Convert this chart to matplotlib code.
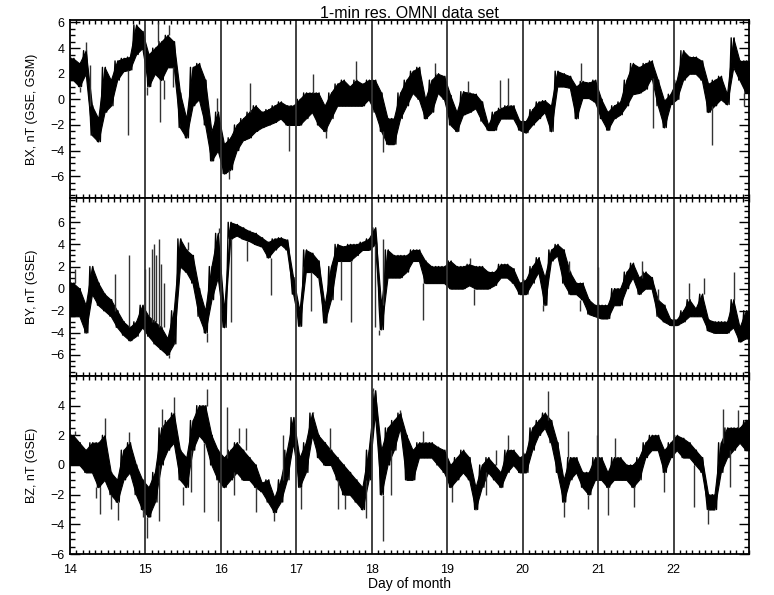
import matplotlib
matplotlib.use("Agg")
import matplotlib.pyplot as plt
import numpy as np
from matplotlib.ticker import MultipleLocator

plt.rcParams['font.family'] = ['Liberation Sans', 'DejaVu Sans']

# 2-hour bins from day 14.0 to 23.0 (12 bins per day):
# lo/hi = extent of the dense part of the 1-min trace in each bin, spikes = isolated excursions
day_first = 14
day_last = 23
bins_per_day = 12
day_ticks = [14, 15, 16, 17, 18, 19, 20, 21, 22]

bx_lo = [1.5, 1.0, 2.0, -2.8, -3.3, -1.0, -0.5, 1.5, 2.2, 2.3, 3.5, 4.0,
         1.0, 2.0, 1.5, 2.5, 2.5, -2.2, -3.0, -0.5, 0.0, -2.0, -4.8, -4.0,
         -5.8, -5.5, -4.0, -3.2, -3.0, -2.5, -2.2, -2.0, -1.8, -1.5, -2.0, -2.0,
         -2.0, -1.5, -1.0, -2.0, -2.5, -1.5, -0.5, -0.5, -0.5, -0.5, -0.5, 0.0,
         -1.0, -2.5, -3.5, -3.5, -1.5, -0.5, 0.5, 0.0, -1.5, -1.0, 0.5, 0.0,
         -2.0, -2.5, -1.2, -1.0, -0.7, -1.7, -2.4, -2.4, -1.5, -1.5, -1.5, -2.4,
         -2.6, -2.0, -1.5, -1.0, -2.5, 1.0, 1.0, 0.9, -1.5, 0.1, 0.1, -0.2,
         -1.5, -2.4, -1.5, -1.2, -0.5, 0.4, 0.5, 0.8, 1.7, -0.5, -2.2, -0.4,
         0.0, 1.5, 2.0, 2.0, 1.5, -1.0, -0.5, 0.0, -0.4, 2.5, 1.5, 0.5]
bx_hi = [3.2, 2.8, 3.8, -0.5, -1.5, 2.5, 1.5, 3.0, 3.2, 3.3, 5.8, 5.3,
         3.5, 4.0, 4.5, 5.0, 4.5, 0.5, -1.5, 2.5, 2.8, 1.5, -2.5, -1.0,
         -3.5, -3.0, -2.0, -1.5, -1.0, -0.5, -1.0, -0.8, -0.5, -0.2, -0.5, -0.5,
         0.0, 0.5, 0.5, 0.5, -0.5, 0.5, 1.2, 1.5, 1.0, 1.5, 1.2, 1.5,
         1.5, 0.5, -1.5, -1.5, 0.5, 1.5, 2.2, 2.5, 0.0, 1.5, 2.0, 1.8,
         0.3, -1.0, 0.6, 0.5, 0.4, -0.2, -2.0, -1.0, -0.7, -0.5, -0.5, -1.7,
         -1.7, -0.8, -0.2, -0.1, -0.5, 2.2, 2.0, 1.8, 1.0, 1.4, 1.3, 1.5,
         0.0, -1.0, -0.5, -0.2, 1.5, 2.8, 2.5, 2.8, 3.0, 1.5, -0.1, 0.4,
         1.5, 3.8, 3.3, 3.3, 3.0, 1.2, 1.5, 1.8, 0.4, 4.8, 3.0, 3.0]
bx_spike_t = [14.13, 14.21, 14.27, 14.77, 15.02, 15.17, 15.19, 15.24, 15.31, 15.36,
              15.95, 16.11, 16.39, 16.90, 17.22, 17.40, 17.79, 18.15, 18.84, 19.28,
              19.70, 19.80, 20.77, 21.73, 22.51, 22.93]
bx_spike_v = [0.6, 4.5, 2.7, -2.8, 0.3, 6.0, -1.8, 0.0, 5.8, 1.0,
              0.1, -6.2, 1.3, -4.0, 2.0, -3.0, 3.0, -4.1, 2.8, 1.4,
              1.5, 1.7, 2.8, -2.2, -3.6, -0.5]

by_lo = [-2.5, -2.5, -4.0, -0.5, -1.5, -2.0, -2.5, -3.5, -4.2, -4.7, -4.3, -3.5,
         -4.3, -5.0, -5.5, -6.0, -5.0, 2.0, 1.5, 0.5, -2.5, -4.0, -1.0, 1.0,
         -3.5, 4.5, 4.8, 4.5, 4.3, 4.0, 3.8, 2.8, 3.5, 4.0, 3.5, -0.5,
         -3.4, 1.5, 1.5, 1.0, -3.1, -1.0, 2.5, 2.5, 2.5, 3.0, 3.5, 3.5,
         4.0, -3.7, 1.0, 1.0, 1.0, 1.5, 2.5, 2.5, 0.5, 0.5, 0.5, 0.5,
         0.0, 0.0, 0.0, 0.3, 0.0, 0.0, 0.0, 0.3, 1.0, 1.0, 0.5, -0.5,
         -0.5, 0.5, 1.5, -1.5, 2.5, 3.0, 0.5, -0.5, -0.5, -1.0, -2.3, -2.5,
         -2.7, -2.7, -1.5, -1.5, 0.0, 1.0, -0.5, 0.0, 0.0, -2.5, -3.0, -3.3,
         -3.3, -3.0, -2.5, -2.5, -2.5, -3.8, -4.0, -4.0, -4.0, -3.5, -4.8, -4.5]
by_hi = [0.5, 0.0, -1.5, 2.0, 0.5, -0.5, -1.0, -2.0, -3.0, -3.5, -3.0, -1.5,
         -2.5, -3.0, -3.5, -4.5, -2.0, 4.5, 3.5, 3.0, 0.0, -2.0, 2.0, 5.0,
         -2.0, 6.0, 5.8, 5.5, 5.2, 5.0, 4.6, 4.2, 4.5, 4.6, 4.4, 1.0,
         -2.0, 3.5, 3.2, 2.5, -1.5, 2.0, 4.0, 3.8, 4.0, 4.0, 4.2, 4.5,
         5.5, -1.5, 3.5, 3.0, 3.0, 3.0, 3.5, 3.5, 2.5, 2.0, 2.0, 2.0,
         2.5, 2.0, 2.0, 2.2, 2.0, 2.0, 1.5, 1.5, 2.2, 2.2, 1.8, 0.5,
         0.8, 2.0, 2.8, 1.0, 3.5, 4.0, 3.5, 1.5, 0.5, 0.5, -1.0, -1.5,
         -1.5, -1.5, 0.0, 0.0, 1.5, 2.3, 1.0, 1.5, 1.0, -1.0, -1.5, -2.8,
         -2.8, -2.0, -1.0, -1.8, -0.5, -2.8, -3.0, -3.0, -3.0, -1.0, -3.5, -2.0]
by_spike_t = [14.07, 14.60, 14.78, 15.00, 15.05, 15.09, 15.11, 15.14, 15.18, 15.21,
              15.24, 15.31, 15.57, 15.82, 15.97, 16.13, 16.35, 16.66, 17.19, 17.59,
              17.72, 18.04, 18.10, 18.15, 18.68, 19.30, 19.35, 20.27, 20.61, 20.76,
              21.00, 21.58, 21.80, 22.20, 22.40, 22.80]
by_spike_v = [1.8, 1.3, 3.0, 1.8, 2.0, 3.6, 4.0, 3.0, 4.5, 2.2,
              0.5, -6.3, 4.2, -4.8, 5.5, -3.0, 2.5, -0.6, -2.0, -1.0,
              -3.0, -3.5, -4.2, 4.5, -2.8, 2.8, -1.5, -2.0, 2.5, -2.0,
              2.0, 2.5, 0.0, 0.5, 1.0, 1.5]

bz_lo = [0.0, 0.0, -0.5, -0.5, -1.5, -1.0, -2.0, -2.5, -1.0, -0.5, -2.0, -3.0,
         -3.5, -2.5, 0.0, 1.0, 1.5, -1.0, -1.5, 1.0, 2.0, 1.5, 0.0, -1.0,
         -1.5, -1.0, -0.5, -1.0, -1.0, -1.5, -1.8, -2.5, -3.2, -2.5, -1.0, 1.5,
         -1.5, -0.5, 2.0, 0.5, 0.0, 0.0, -1.0, -2.0, -2.0, -2.5, -3.0, -1.0,
         3.5, -2.0, 0.0, 1.0, 2.5, -1.0, -1.0, 0.5, 0.5, 0.5, 0.0, -0.5,
         -1.5, -1.0, -0.5, -1.0, -3.0, -1.5, -0.5, -1.0, -1.5, -0.5, 0.0, -0.5,
         -0.5, 1.0, 2.0, 2.5, 1.5, -0.5, -2.5, -1.0, -0.5, -1.5, -2.0, -1.0,
         -1.0, -1.5, -1.0, -1.0, -1.0, -1.5, -1.0, 0.5, 1.0, 1.0, -0.5, 0.5,
         1.0, 0.5, 0.5, 0.0, -0.5, -3.0, -3.0, -0.5, 0.5, 1.0, 1.5, 1.0]
bz_hi = [2.0, 1.5, 1.0, 1.5, 1.5, 2.0, -0.5, -1.0, 1.0, 1.5, 0.0, -1.0,
         -1.5, -0.5, 2.5, 3.0, 3.5, 1.0, 0.5, 3.0, 4.0, 4.0, 2.0, 1.0,
         0.5, 1.0, 1.5, 1.0, 0.5, 0.0, -1.2, -1.0, -2.2, -1.0, 1.0, 3.2,
         0.5, 1.5, 3.5, 2.0, 1.5, 1.0, 0.5, 0.0, -0.5, -1.0, -1.5, 1.0,
         5.0, 1.0, 2.5, 3.0, 3.5, 2.0, 1.0, 1.5, 1.5, 1.5, 1.2, 1.0,
         0.0, 0.5, 1.0, 0.5, -1.5, 0.0, 0.5, 0.0, -0.5, 1.0, 1.0, 0.5,
         0.8, 2.5, 3.0, 3.5, 3.0, 1.5, -1.0, 0.5, 0.5, -0.5, -0.5, 0.5,
         0.5, -0.5, 0.5, 0.5, 0.0, 0.0, 0.5, 1.5, 2.0, 2.0, 1.0, 1.5,
         2.0, 1.8, 1.5, 1.0, 0.5, -2.0, -2.0, 1.5, 2.5, 2.5, 2.5, 3.0]
bz_spike_t = [14.07, 14.35, 14.40, 14.47, 14.55, 14.64, 14.78, 14.97, 15.02, 15.18,
              15.22, 15.38, 15.50, 15.61, 15.78, 15.82, 15.96, 16.08, 16.18, 16.24,
              16.33, 16.46, 16.70, 16.82, 17.06, 17.22, 17.45, 17.55, 17.65, 17.92,
              18.01, 18.15, 18.25, 18.37, 18.68, 19.06, 19.52, 19.65, 19.81, 20.34,
              20.55, 20.60, 20.86, 20.98, 21.13, 21.23, 21.47, 21.87, 22.27, 22.46,
              22.66, 22.75, 22.86]
bz_spike_v = [2.3, -2.2, -3.3, 3.2, -3.0, -3.7, 2.2, -3.5, -4.9, -3.8,
              3.8, 4.6, -2.7, -1.8, -3.2, 5.1, -3.8, 3.9, -2.0, 2.5,
              2.5, -3.2, -3.8, 2.0, -3.0, 3.6, 2.5, -3.0, -3.0, -3.6,
              5.2, -5.1, -2.0, 3.7, 2.3, -2.5, -2.0, 1.0, 2.0, 5.0,
              -3.5, 2.3, -3.0, 2.0, -3.4, 1.8, -2.8, -1.8, -2.8, -4.0,
              3.8, -1.5, 3.7]

panels = [
    ("BX, nT (GSE, GSM)", bx_lo, bx_hi, bx_spike_t, bx_spike_v, (-7.7, 6.2), [-6, -4, -2, 0, 2, 4, 6]),
    ("BY, nT (GSE)", by_lo, by_hi, by_spike_t, by_spike_v, (-7.9, 8.2), [-6, -4, -2, 0, 2, 4, 6]),
    ("BZ, nT (GSE)", bz_lo, bz_hi, bz_spike_t, bz_spike_v, (-6.0, 6.0), [-6, -4, -2, 0, 2, 4]),
]

fig = plt.figure(figsize=(7.74, 5.95), dpi=100)
left, width, h = 0.0904, 0.8773, 0.2992
bottoms = [0.6673, 0.3681, 0.0689]
w = 1 / bins_per_day

for (label, lo, hi, st, sv, ylim, yt), bot in zip(panels, bottoms):
    ax = fig.add_axes([left, bot, width, h])
    lo = np.array(lo)
    hi = np.array(hi)
    t = day_first + (np.arange(len(lo)) + 0.5) * w
    x = np.r_[day_first, t, day_last]
    ax.fill_between(x, np.r_[lo[0], lo, lo[-1]], np.r_[hi[0], hi, hi[-1]],
                    color='black', lw=0.8, edgecolor='black')
    # jagged trace: run down and up through each bin's band
    zx = np.column_stack([t - w / 3, t - w / 8, t + w / 8, t + w / 3]).ravel()
    zy = np.column_stack([hi, lo, hi, lo]).ravel()
    ax.plot(zx, zy, color='black', lw=1.0)
    # spikes go from the edge of the dense band out to the read value
    idx = np.clip(((np.array(st) - day_first) * bins_per_day).astype(int), 0, len(lo) - 1)
    sv = np.array(sv)
    base = np.where(sv > hi[idx], hi[idx], lo[idx])
    ax.vlines(st, base, sv, color='0.2', lw=1.0)

    for d in day_ticks[1:]:
        ax.axvline(d, color='0.2', lw=1.3)

    ax.set_xlim(day_first, day_last)
    ax.set_ylim(*ylim)
    ax.set_yticks(yt)
    ax.yaxis.set_minor_locator(MultipleLocator(0.5))
    ax.set_xticks(day_ticks)
    ax.xaxis.set_minor_locator(MultipleLocator(w))
    ax.tick_params(axis='y', which='major', direction='in', length=7.5, width=1.0,
                   left=True, right=True, labelsize=9, pad=4)
    ax.tick_params(axis='y', which='minor', direction='in', length=3.8, width=1.0,
                   left=True, right=True)
    ax.tick_params(axis='x', which='major', direction='in', length=0,
                   top=True, bottom=True, labelsize=9, pad=7)
    ax.tick_params(axis='x', which='minor', direction='in', length=3, width=1.0,
                   top=True, bottom=True)
    for s in ax.spines.values():
        s.set_linewidth(1.3)
    ax.set_ylabel(label, fontsize=9)
    ax.yaxis.set_label_coords(-0.047, 0.5)
    if bot != bottoms[-1]:
        ax.tick_params(axis='x', labelbottom=False)
    else:
        ax.set_xlabel("Day of month", fontsize=10, labelpad=1)

fig.text(0.529, 0.99, "1-min res. OMNI data set", ha='center', va='top', fontsize=11.5)
fig.savefig("out.png", dpi=100)
